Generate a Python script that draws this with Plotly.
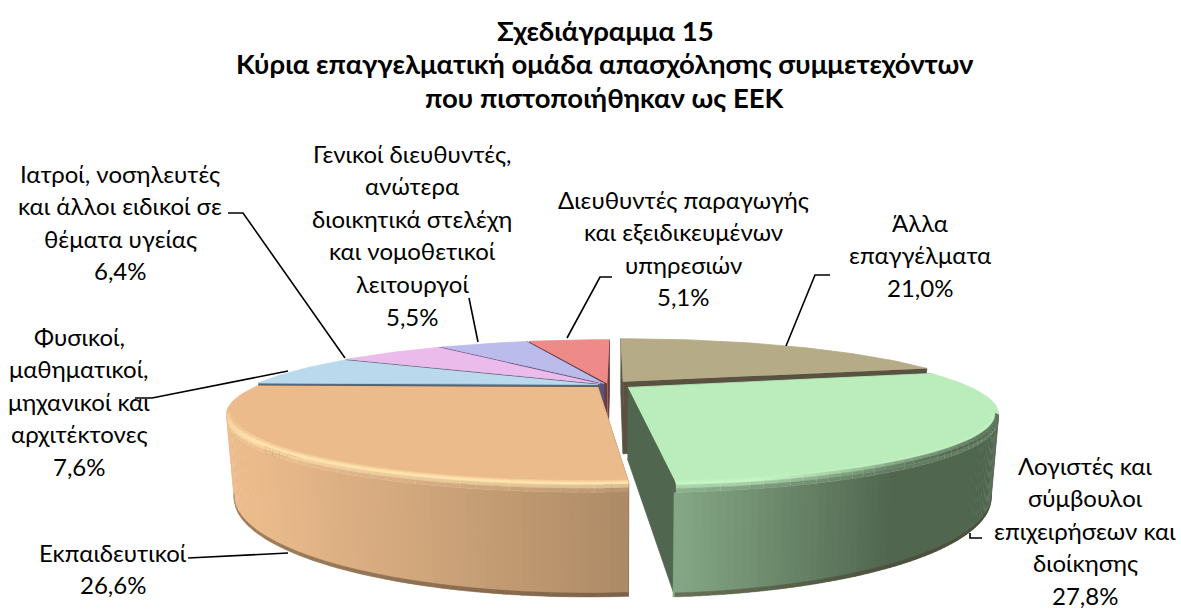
import math
import plotly.graph_objects as go

# ---- data ----
categories = ["Άλλα\nεπαγγέλματα", "Λογιστές και\nσύμβουλοι\nεπιχειρήσεων και\nδιοίκησης",
              "Εκπαιδευτικοί", "Φυσικοί,\nμαθηματικοί,\nμηχανικοί και\nαρχιτέκτονες",
              "Ιατροί, νοσηλευτές\nκαι άλλοι ειδικοί σε\nθέματα υγείας",
              "Γενικοί διευθυντές,\nανώτερα\nδιοικητικά στελέχη\nκαι νομοθετικοί\nλειτουργοί",
              "Διευθυντές παραγωγής\nκαι εξειδικευμένων\nυπηρεσιών"]
values = [21.0, 27.8, 26.6, 7.6, 6.4, 5.5, 5.1]
value_labels = ["21,0%", "27,8%", "26,6%", "7,6%", "6,4%", "5,5%", "5,1%"]
title_lines = ["Σχεδιάγραμμα 15", "Κύρια επαγγελματική ομάδα απασχόλησης συμμετεχόντων",
               "που πιστοποιήθηκαν ως ΕΕΚ"]

# ---- style ----
pull = [0.067, 0.068, 0.047, 0.033, 0.034, 0.03, 0.03]
top_col = ["#B5AB87", "#BBECBB", "#EBBB8C", "#BBD9EC", "#EBBBEC", "#BBBBEC", "#EE8A88"]
face_col = ["#5A5240", "#50664F", "#6B5540", "#54697A", "#70506F", "#55557A", "#6E3A3A"]
rim_col = ["#B5AB87", "#C4F6C4", "#FFE3AC", "#BBD9EC", "#EBBBEC", "#BBBBEC", "#EE8A88"]
wall_from = {1: ("#85A886", "#50664F", 675, 895), 2: ("#AD8A66", "#EBBB8C", 629, 253)}
label_pos = [(920, 222), (1085, 465), (113, 552), (79, 336), (120, 173), (412, 153), (683, 199)]
leaders = [[(786, 346), (815, 275), (830, 275)], [(970, 533), (970, 538), (982, 538)],
           [(288, 553), (198, 558), (188, 558)], [(288, 371), (152, 398), (135, 398)],
           [(345, 358), (243, 213), (228, 213)], [(478, 342), (469, 298)],
           [(567, 338), (600, 277), (612, 277)]]
FONT = "Lato, Carlito, 'Open Sans', sans-serif"
CX, CY, VX, A, B, P, H, SC = 609, 385, 615, 343, 60.1, 0.367, 72, 0.98
R_FLAT, RIM_H = 0.982, 0.08


def proj(t, r, pu, pv, h=0.0):
    U = pu + r * math.sin(t)
    V = pv + r * math.cos(t)
    w = 1 + P * r * math.cos(t)
    sx = VX + (CX - VX + A * U) / w
    sy = CY - B * V / w
    if h:
        sx = VX + (sx - VX) * (1 - (1 - SC) * h)
        sy = sy + H * h / w
    return sx, sy


def hex2(c):
    return [int(c[i:i + 2], 16) for i in (1, 3, 5)]


def mix(c1, c2, f):
    f = max(0.0, min(1.0, f))
    a, b = hex2(c1), hex2(c2)
    return "#%02X%02X%02X" % tuple(round(a[i] + (b[i] - a[i]) * f) for i in range(3))


fig = go.Figure()


def poly(pts, col, lw=0.8):
    fig.add_trace(go.Scatter(x=[p[0] for p in pts], y=[p[1] for p in pts], mode="lines",
                             fill="toself", fillcolor=col, line=dict(color=col, width=lw),
                             hoverinfo="skip", showlegend=False))


starts, acc = [], 0.0
for v in values:
    starts.append(acc)
    acc += v
total = acc
spans = [(2 * math.pi * s / total, 2 * math.pi * (s + v) / total) for s, v in zip(starts, values)]


def draw_slice(i):
    t0, t1 = spans[i]
    mid = (t0 + t1) / 2
    pu, pv = pull[i] * math.sin(mid), pull[i] * math.cos(mid)
    # cut faces
    for t in (t0, t1):
        poly([proj(t, 0, pu, pv), proj(t, 1, pu, pv), proj(t, 1, pu, pv, 1), proj(t, 0, pu, pv, 1)], face_col[i])
    # front-facing wall, gradient and rim
    fa, fb = max(t0, math.acos(-P)), min(t1, 2 * math.pi - math.acos(-P))
    if i in wall_from and fb > fa:
        c0, c1, x0, x1 = wall_from[i]
        n = 70
        for k in range(n):
            a, b = fa + (fb - fa) * k / n, fa + (fb - fa) * (k + 1) / n
            xm = proj((a + b) / 2, 1, pu, pv)[0]
            wc = mix(c0, c1, (xm - x0) / (x1 - x0))
            poly([proj(a, 1, pu, pv, RIM_H), proj(b + 0.004, 1, pu, pv, RIM_H), proj(b + 0.004, 1, pu, pv, 1), proj(a, 1, pu, pv, 1)], wc, 0.3)
        for k in range(n):
            a, b = fa + (fb - fa) * k / n, fa + (fb - fa) * (k + 1) / n
            xm = proj((a + b) / 2, 1, pu, pv)[0]
            wc = mix(c0, c1, (xm - x0) / (x1 - x0))
            poly([proj(a, 1, pu, pv, 0.965), proj(b, 1, pu, pv, 0.965), proj(b, 1, pu, pv, 1), proj(a, 1, pu, pv, 1)],
                 mix(wc, "#4A3A2A", 0.5), 0.3)
    # top face
    n = max(6, int((t1 - t0) * 40))
    ts = [t0 + (t1 - t0) * k / n for k in range(n + 1)]
    poly([proj(0, 0, pu, pv)] + [proj(t, 1, pu, pv) for t in ts], top_col[i])
    if i in wall_from and fb > fa:
        # rounded rim strips on the front arc: flat colour -> highlight -> wall colour
        m = 40
        c0, c1, x0, x1 = wall_from[i]
        prof = [(R_FLAT, 0), (0.992, 0), (1, 0.015), (1, 0.045), (1, RIM_H)]
        for k in range(m):
            a, b = fa + (fb - fa) * k / m, fa + (fb - fa) * (k + 1) / m
            mm = (a + b) / 2
            xm = proj(mm, 1, pu, pv)[0]
            wc = mix(c0, c1, (xm - x0) / (x1 - x0))
            cols = [mix(top_col[i], rim_col[i], 0.5), rim_col[i],
                    mix(rim_col[i], wc, 0.4), mix(rim_col[i], wc, 0.85)]
            if i == 1:
                cols[1] = mix(cols[1], wc, max(0, (xm - 760) / 260))
                cols[2] = mix(cols[2], wc, max(0, (xm - 760) / 200))
            if i == 2:
                # highlight fades back into the flat colour at the far-left end
                fade = max(0.0, 1 - (fb - mm) / 0.35)
                cols[0] = mix(cols[0], top_col[i], fade)
                cols[1] = mix(cols[1], top_col[i], fade * 0.6)
            for j in range(len(prof) - 1):
                r0, h0 = prof[j]
                r1, h1 = prof[j + 1]
                poly([proj(a, r0, pu, pv, h0), proj(b, r0, pu, pv, h0), proj(b, r1, pu, pv, h1), proj(a, r1, pu, pv, h1)],
                     cols[j], 0.4)


for i in (6, 5, 4, 3, 0, 2, 1):
    draw_slice(i)

# leader lines
for pts in leaders:
    fig.add_trace(go.Scatter(x=[p[0] for p in pts], y=[p[1] for p in pts], mode="lines",
                             line=dict(color="black", width=1.6), hoverinfo="skip", showlegend=False))

annos = []
LINE = 32.6
for cat, val, (lx, ly) in zip(categories, value_labels, label_pos):
    for k, line in enumerate(cat.split("\n") + [val]):
        annos.append(dict(x=lx, y=ly + k * LINE, text=line, showarrow=False, xanchor="center", yanchor="middle",
                          font=dict(family=FONT, size=24, color="black")))
for y, line in zip((30, 63, 97), title_lines):
    annos.append(dict(x=605, y=y, text="<b>" + line + "</b>", showarrow=False, xanchor="center", yanchor="middle",
                      font=dict(family=FONT, size=27.5, color="black")))

fig.update_layout(width=1181, height=610, margin=dict(l=0, r=0, t=0, b=0), paper_bgcolor="white",
                  plot_bgcolor="white", showlegend=False, annotations=annos,
                  xaxis=dict(range=[0, 1181], visible=False, fixedrange=True),
                  yaxis=dict(range=[610, 0], visible=False, fixedrange=True))
fig.write_html("out.html", config={"displayModeBar": False},
               post_script="document.body.style.margin='0';document.body.style.overflow='hidden';")
